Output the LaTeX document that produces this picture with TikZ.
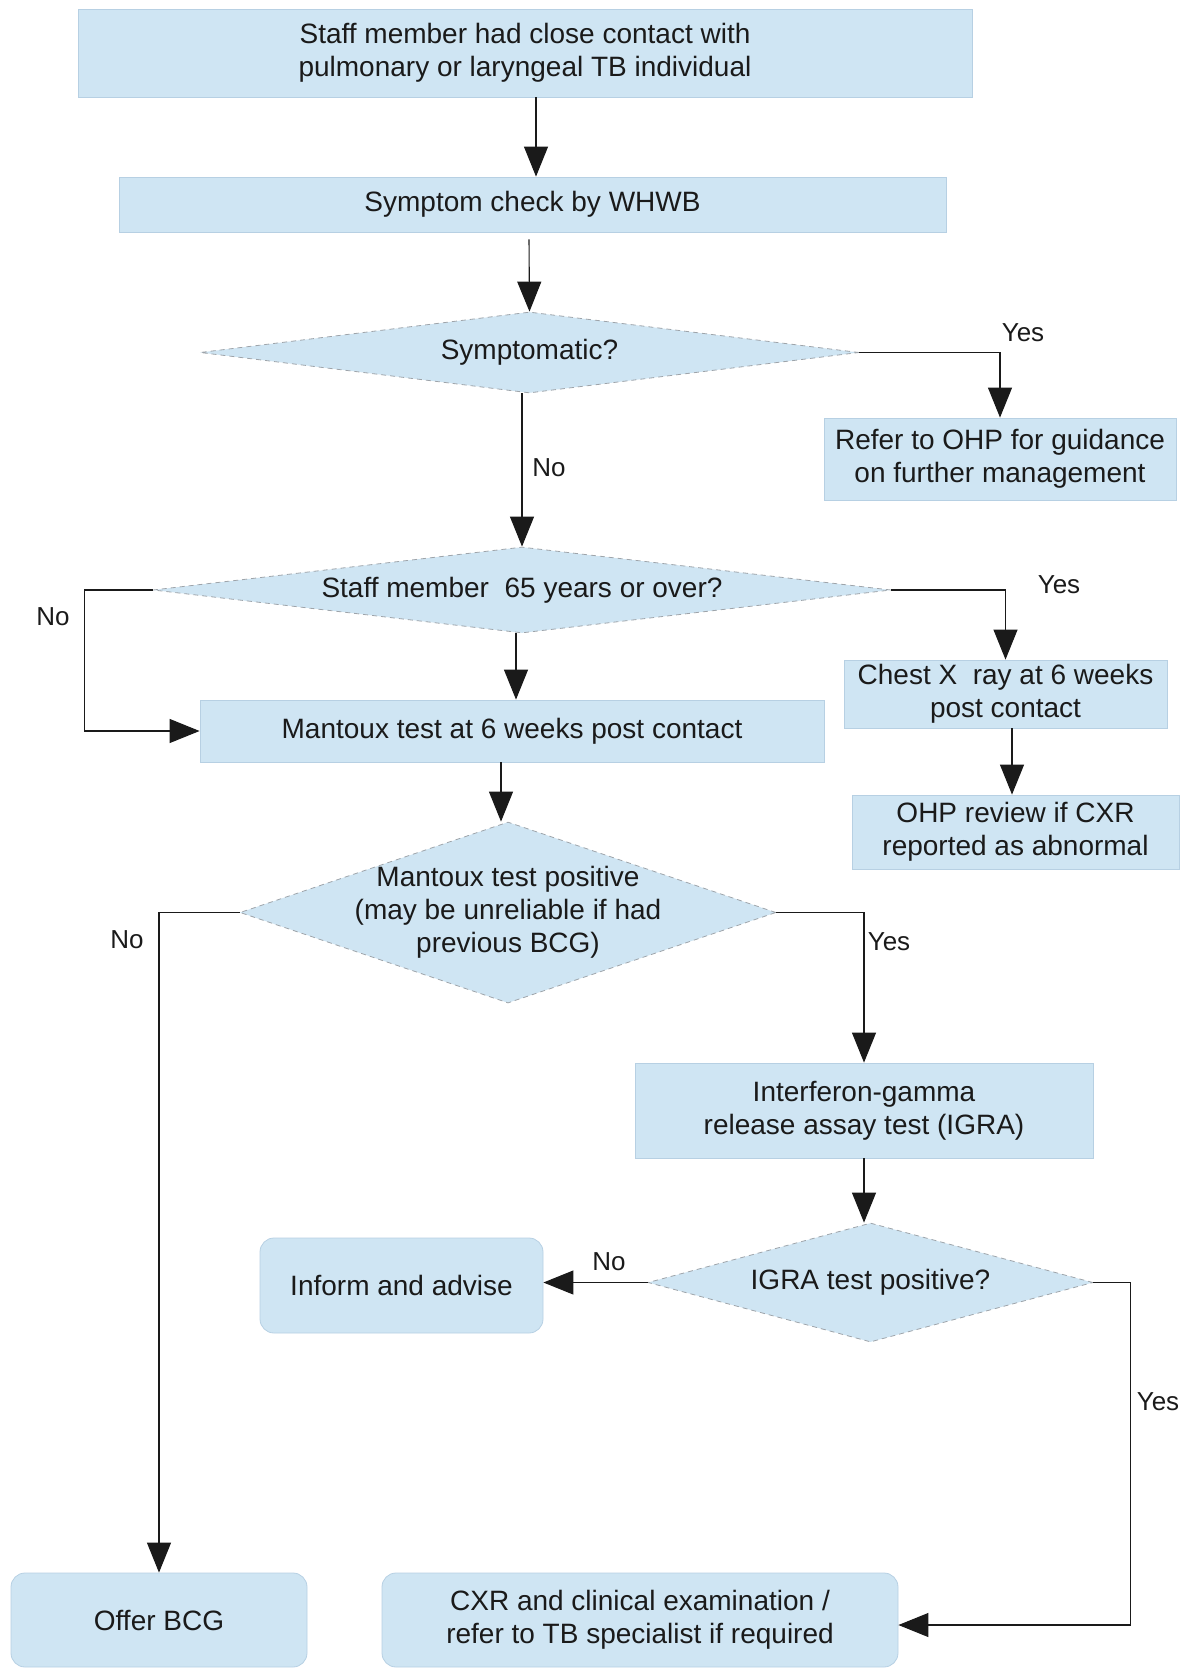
\documentclass[tikz,border=0pt]{standalone}
\usepackage{fontspec}
\setmainfont{Liberation Sans}
\usepackage{xcolor}
\definecolor{tbBlueBg}{HTML}{CFE5F3}
\definecolor{tbBlueEdge}{HTML}{B7D0E3}
\definecolor{tbGreyDash}{HTML}{9EA4AA}
\definecolor{tbInk}{HTML}{1A1A1A}
\usepackage{tikz}
\usetikzlibrary{arrows.meta, positioning, calc, shapes.geometric}
\tikzset{
  %% -- Boxes ------------------------------------------------------------
  %% Plain steps are square, end points are rounded, questions are lozenges.
  boite/.style      = {rectangle, fill=tbBlueBg, draw=tbBlueEdge,
                       line width=0.4pt, text=tbInk, align=center,
                       inner sep=2pt, font=\fontsize{14}{16.5}\selectfont},
  boiteRonde/.style = {boite, rounded corners=7pt},
  losange/.style    = {diamond, fill=tbBlueBg, draw=tbGreyDash,
                       line width=0.4pt, dash pattern=on 2.5pt off 2pt,
                       text=tbInk, align=center, inner sep=0pt,
                       font=\fontsize{14}{16.5}\selectfont},
  %%
  %% -- Arrows -----------------------------------------------------------
  fleche/.style     = {-{Triangle[length=15pt, width=12pt]}, draw=tbInk,
                       line width=0.55pt},
  %%
  %% -- Text -------------------------------------------------------------
  etiquette/.style  = {font=\fontsize{13}{15}\selectfont, text=tbInk,
                       inner sep=0pt},
}

\begin{document}
\begin{tikzpicture}[x=0.5pt, y=-0.5pt]
\useasboundingbox (0,0) rectangle (1182,1668);

%% The main column, from the contact down to the skin test.
\node[boite, minimum width=447pt, minimum height=44pt] (contact) at (525, 53)
     {Staff member had close contact with\\pulmonary or laryngeal TB individual};
\node[boite, minimum width=413.5pt, minimum height=27.5pt] (check) at (532.5, 204.5)
     {Symptom check by WHWB};
\node[losange, aspect=8.1, minimum width=329.5pt, minimum height=40.5pt] (symp)
     at (529.5, 352.5) {Symptomatic?};
\node[boite, minimum width=176pt, minimum height=41pt] (refer) at (1000, 459)
     {Refer to OHP for guidance\\on further management};
\node[losange, aspect=8.6, minimum width=369pt, minimum height=43pt] (age)
     at (522, 590) {Staff member\ \ 65 years or over?};
\node[boite, minimum width=312pt, minimum height=31pt] (mantoux) at (512, 731)
     {Mantoux test at 6 weeks post contact};
\node[boite, minimum width=161.5pt, minimum height=34pt] (chest) at (1005.5, 694)
     {Chest X\ \ ray at 6 weeks\\post contact};
\node[boite, minimum width=163.5pt, minimum height=37pt] (review) at (1015.5, 832)
     {OHP review if CXR\\reported as abnormal};

%% The skin test and what follows it.
\node[losange, aspect=2.96, inner xsep=-20pt, minimum width=268pt,
      minimum height=90.5pt] (mpos) at (508, 912.5)
     {Mantoux test positive\\(may be unreliable if had\\previous BCG)};
\node[boite, minimum width=229pt, minimum height=47.5pt] (igra) at (864, 1110.5)
     {Interferon-gamma\\release assay test (IGRA)};
\node[losange, aspect=3.74, minimum width=222.5pt, minimum height=59.5pt] (igrapos)
     at (870.5, 1282.5) {IGRA test positive?};
\node[boiteRonde, minimum width=141.5pt, minimum height=47.5pt] (inform)
     at (401.5, 1285.5) {Inform and advise};
\node[boiteRonde, minimum width=148pt, minimum height=47pt] (bcg) at (159, 1620)
     {Offer BCG};
\node[boiteRonde, minimum width=258pt, minimum height=47pt] (cxr) at (640, 1620)
     {CXR and clinical examination /\\refer to TB specialist if required};

%% Connectors.
\draw[fleche] ([xshift=5.5pt]contact.south) -- ([xshift=1.75pt]check.north);
\draw[fleche] ([xshift=-1.75pt, yshift=-3.5pt]check.south) -- (symp.north);
\draw[fleche] (symp.east) -| (refer.north);
\draw[fleche] (symp.south -| age.north) -- (age.north);
\draw[fleche] (age.west) -- ++(-34pt, 0) |- (mantoux.west);
\draw[fleche] (age.east) -| (chest.north);
\draw[fleche] ([xshift=-3pt]age.south) -- ([xshift=2pt]mantoux.north);
\draw[fleche] ([xshift=3.25pt]chest.south) -- ([xshift=-1.75pt]review.north);
\draw[fleche] ([xshift=-5.5pt]mantoux.south) -- ([xshift=-3.5pt]mpos.north);
\draw[fleche] (mpos.west) -| (bcg.north);
\draw[fleche] (mpos.east) -| (igra.north);
\draw[fleche] (igra.south) -- (igra.south |- igrapos.north);
\draw[fleche] (igrapos.west) -- (igrapos.west -| inform.east);
\draw[fleche] (igrapos.east) -- ++(18.5pt, 0) |- ([yshift=-2.5pt]cxr.east);

%% Yes / No labels.
\node[etiquette] (ouiSymp) at (1023, 333) {Yes};
\node[etiquette] (nonSymp) at (549, 468) {No};
\node[etiquette] (nonAge) at (53, 617) {No};
\node[etiquette] (ouiAge) at (1059, 585) {Yes};
\node[etiquette] (nonMpos) at (127, 940) {No};
\node[etiquette] (ouiMpos) at (889, 942) {Yes};
\node[etiquette] (nonIgra) at (609, 1262) {No};
\node[etiquette] (ouiIgra) at (1158, 1402) {Yes};

\end{tikzpicture}
\end{document}
